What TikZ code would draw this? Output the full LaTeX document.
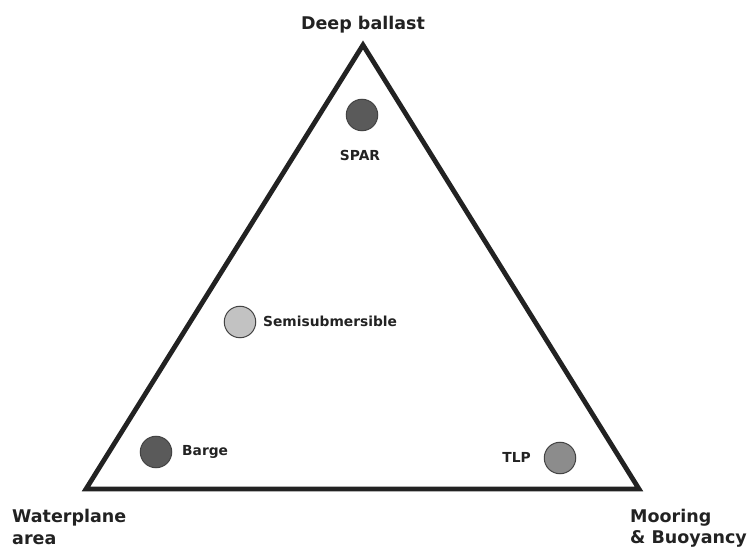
\documentclass[tikz,border=0pt]{standalone}
\usepackage{fontspec}
\setmainfont{DejaVu Sans}[BoldFont={DejaVu Sans Bold}]
\definecolor{edge}{HTML}{222222}
\definecolor{dark}{HTML}{5A5A5A}
\definecolor{mid}{HTML}{8C8C8C}
\definecolor{light}{HTML}{C2C2C2}
\begin{document}
\begin{tikzpicture}[x=1pt,y=-1pt,
  bigl/.style={font=\bfseries\fontsize{17.5}{21.5}\selectfont,text=edge,inner sep=0pt,align=left},
  smalll/.style={font=\bfseries\fontsize{13.8}{16}\selectfont,text=edge,inner sep=0pt},
  platform/.style={circle,minimum size=31.5pt,inner sep=0pt,draw=edge!85,line width=1pt}]
\useasboundingbox (0,0) rectangle (748,548);
\coordinate (top) at (363,45);
\coordinate (bl) at (86,489);
\coordinate (br) at (639,489);
\draw[edge,line width=4.8pt,line join=miter] (top) -- (bl) -- (br) -- cycle;
\node[platform,fill=dark] (spar) at (362,115) {};
\node[platform,fill=dark] (barge) at (156,452) {};
\node[platform,fill=mid] (tlp) at (560,458) {};
\node[platform,fill=light] (semi) at (240,322) {};
\node[bigl,anchor=base] (deep) at (363,30) {Deep ballast};
\node[bigl,anchor=base west] (wpa) at (12,544) {Waterplane\\area};
\node[bigl,anchor=base west] (moor) at (630,543.5) {Mooring\\\& Buoyancy};
\node[smalll,anchor=base] (sparl) at (360,161) {SPAR};
\node[smalll,anchor=base west] (semil) at (263,327) {Semisubmersible};
\node[smalll,anchor=base west] (bargel) at (182,456) {Barge};
\node[smalll,anchor=base east] (tlpl) at (531,463) {TLP};
\end{tikzpicture}
\end{document}
